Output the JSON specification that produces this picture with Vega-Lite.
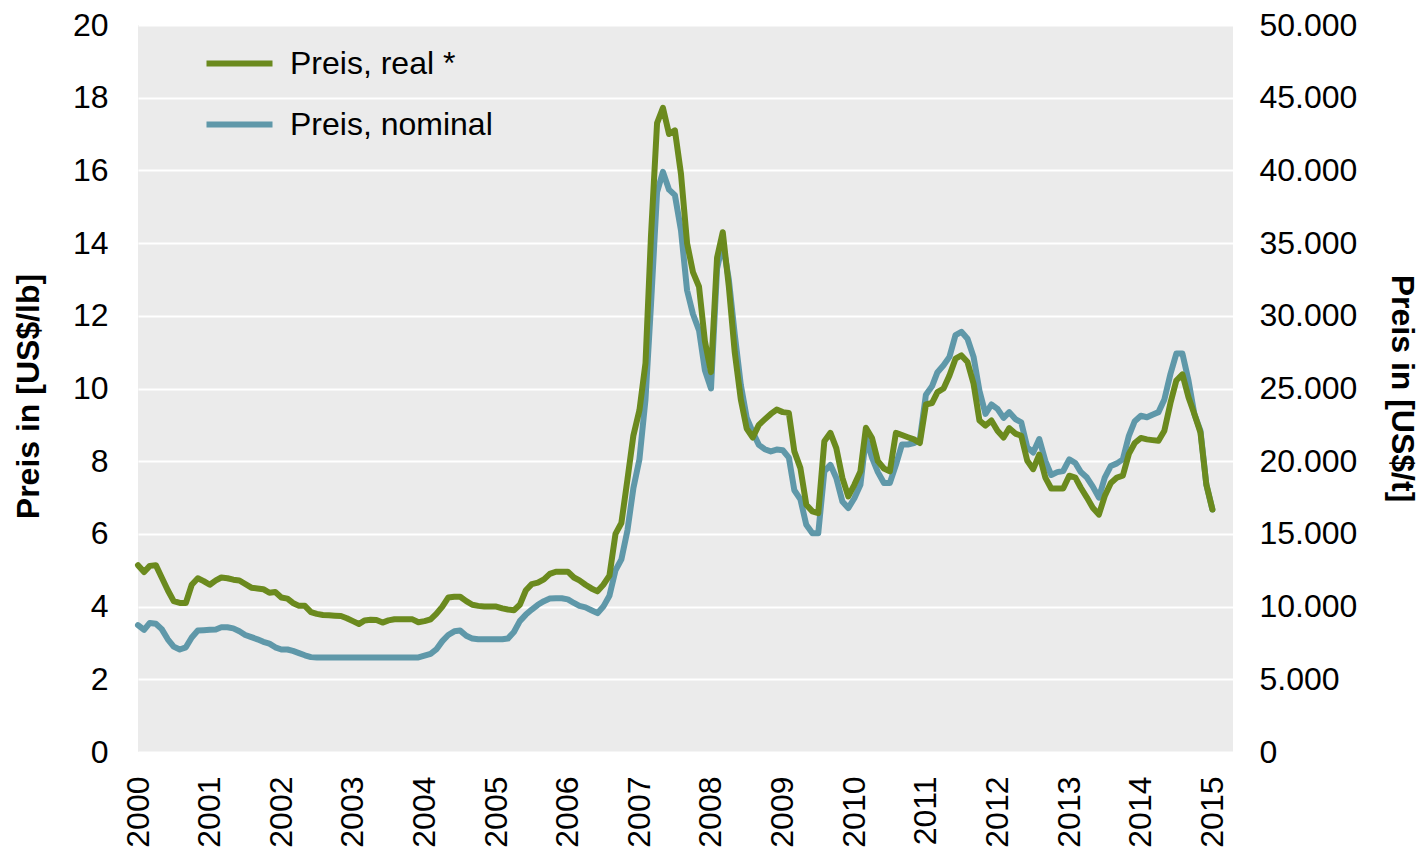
{
"$schema": "https://vega.github.io/schema/vega-lite/v6.json",
"width": 1095, "height": 727,
"autosize": {"type": "none"},
"padding": {"left": 138, "top": 25, "right": 187, "bottom": 101},
"background": "white",
"config": {"font": "Liberation Sans", "view": {"fill": "#EBEBEB", "stroke": null}, "axis": {"labelColor": "#000", "titleColor": "#000"}},
"datasets": {"prices": [
{"date":"2000-01-01","real":5.14,"nominal":3.49},{"date":"2000-02-01","real":4.95,"nominal":3.36},{"date":"2000-03-01","real":5.12,"nominal":3.55},{"date":"2000-04-01","real":5.14,"nominal":3.53},{"date":"2000-05-01","real":4.8,"nominal":3.38},{"date":"2000-06-01","real":4.45,"nominal":3.1},{"date":"2000-07-01","real":4.15,"nominal":2.9},{"date":"2000-08-01","real":4.1,"nominal":2.82},{"date":"2000-09-01","real":4.1,"nominal":2.88},{"date":"2000-10-01","real":4.6,"nominal":3.15},{"date":"2000-11-01","real":4.78,"nominal":3.34},{"date":"2000-12-01","real":4.7,"nominal":3.35},
{"date":"2001-01-01","real":4.6,"nominal":3.36},{"date":"2001-02-01","real":4.72,"nominal":3.37},{"date":"2001-03-01","real":4.8,"nominal":3.43},{"date":"2001-04-01","real":4.78,"nominal":3.43},{"date":"2001-05-01","real":4.74,"nominal":3.4},{"date":"2001-06-01","real":4.72,"nominal":3.32},{"date":"2001-07-01","real":4.62,"nominal":3.22},{"date":"2001-08-01","real":4.52,"nominal":3.16},{"date":"2001-09-01","real":4.5,"nominal":3.1},{"date":"2001-10-01","real":4.48,"nominal":3.03},{"date":"2001-11-01","real":4.38,"nominal":2.98},{"date":"2001-12-01","real":4.4,"nominal":2.88},
{"date":"2002-01-01","real":4.25,"nominal":2.82},{"date":"2002-02-01","real":4.22,"nominal":2.82},{"date":"2002-03-01","real":4.1,"nominal":2.78},{"date":"2002-04-01","real":4.02,"nominal":2.72},{"date":"2002-05-01","real":4.02,"nominal":2.66},{"date":"2002-06-01","real":3.85,"nominal":2.61},{"date":"2002-07-01","real":3.8,"nominal":2.6},{"date":"2002-08-01","real":3.77,"nominal":2.6},{"date":"2002-09-01","real":3.76,"nominal":2.6},{"date":"2002-10-01","real":3.75,"nominal":2.6},{"date":"2002-11-01","real":3.74,"nominal":2.6},{"date":"2002-12-01","real":3.68,"nominal":2.6},
{"date":"2003-01-01","real":3.6,"nominal":2.6},{"date":"2003-02-01","real":3.52,"nominal":2.6},{"date":"2003-03-01","real":3.62,"nominal":2.6},{"date":"2003-04-01","real":3.64,"nominal":2.6},{"date":"2003-05-01","real":3.63,"nominal":2.6},{"date":"2003-06-01","real":3.56,"nominal":2.6},{"date":"2003-07-01","real":3.62,"nominal":2.6},{"date":"2003-08-01","real":3.65,"nominal":2.6},{"date":"2003-09-01","real":3.65,"nominal":2.6},{"date":"2003-10-01","real":3.65,"nominal":2.6},{"date":"2003-11-01","real":3.65,"nominal":2.6},{"date":"2003-12-01","real":3.57,"nominal":2.6},
{"date":"2004-01-01","real":3.6,"nominal":2.65},{"date":"2004-02-01","real":3.65,"nominal":2.7},{"date":"2004-03-01","real":3.8,"nominal":2.82},{"date":"2004-04-01","real":4.0,"nominal":3.05},{"date":"2004-05-01","real":4.25,"nominal":3.22},{"date":"2004-06-01","real":4.27,"nominal":3.32},{"date":"2004-07-01","real":4.27,"nominal":3.34},{"date":"2004-08-01","real":4.15,"nominal":3.2},{"date":"2004-09-01","real":4.05,"nominal":3.12},{"date":"2004-10-01","real":4.02,"nominal":3.1},{"date":"2004-11-01","real":4.0,"nominal":3.1},{"date":"2004-12-01","real":4.0,"nominal":3.1},
{"date":"2005-01-01","real":4.0,"nominal":3.1},{"date":"2005-02-01","real":3.95,"nominal":3.1},{"date":"2005-03-01","real":3.92,"nominal":3.12},{"date":"2005-04-01","real":3.9,"nominal":3.3},{"date":"2005-05-01","real":4.05,"nominal":3.6},{"date":"2005-06-01","real":4.45,"nominal":3.78},{"date":"2005-07-01","real":4.62,"nominal":3.92},{"date":"2005-08-01","real":4.66,"nominal":4.05},{"date":"2005-09-01","real":4.75,"nominal":4.15},{"date":"2005-10-01","real":4.9,"nominal":4.22},{"date":"2005-11-01","real":4.96,"nominal":4.23},{"date":"2005-12-01","real":4.96,"nominal":4.23},
{"date":"2006-01-01","real":4.96,"nominal":4.2},{"date":"2006-02-01","real":4.8,"nominal":4.1},{"date":"2006-03-01","real":4.72,"nominal":4.02},{"date":"2006-04-01","real":4.6,"nominal":3.98},{"date":"2006-05-01","real":4.5,"nominal":3.9},{"date":"2006-06-01","real":4.42,"nominal":3.82},{"date":"2006-07-01","real":4.6,"nominal":4.0},{"date":"2006-08-01","real":4.85,"nominal":4.3},{"date":"2006-09-01","real":6.0,"nominal":5.0},{"date":"2006-10-01","real":6.3,"nominal":5.3},{"date":"2006-11-01","real":7.5,"nominal":6.1},{"date":"2006-12-01","real":8.7,"nominal":7.25},
{"date":"2007-01-01","real":9.4,"nominal":8.05},{"date":"2007-02-01","real":10.7,"nominal":9.7},{"date":"2007-03-01","real":14.2,"nominal":12.3},{"date":"2007-04-01","real":17.3,"nominal":15.4},{"date":"2007-05-01","real":17.72,"nominal":15.96},{"date":"2007-06-01","real":17.0,"nominal":15.47},{"date":"2007-07-01","real":17.1,"nominal":15.32},{"date":"2007-08-01","real":15.9,"nominal":14.35},{"date":"2007-09-01","real":14.0,"nominal":12.7},{"date":"2007-10-01","real":13.2,"nominal":12.05},{"date":"2007-11-01","real":12.8,"nominal":11.6},{"date":"2007-12-01","real":11.3,"nominal":10.5},
{"date":"2008-01-01","real":10.45,"nominal":10.0},{"date":"2008-02-01","real":13.6,"nominal":13.3},{"date":"2008-03-01","real":14.3,"nominal":14.0},{"date":"2008-04-01","real":12.8,"nominal":13.0},{"date":"2008-05-01","real":11.0,"nominal":11.5},{"date":"2008-06-01","real":9.7,"nominal":10.1},{"date":"2008-07-01","real":8.9,"nominal":9.2},{"date":"2008-08-01","real":8.65,"nominal":8.8},{"date":"2008-09-01","real":9.0,"nominal":8.45},{"date":"2008-10-01","real":9.15,"nominal":8.33},{"date":"2008-11-01","real":9.3,"nominal":8.27},{"date":"2008-12-01","real":9.42,"nominal":8.32},
{"date":"2009-01-01","real":9.35,"nominal":8.3},{"date":"2009-02-01","real":9.33,"nominal":8.1},{"date":"2009-03-01","real":8.27,"nominal":7.2},{"date":"2009-04-01","real":7.81,"nominal":6.95},{"date":"2009-05-01","real":6.8,"nominal":6.25},{"date":"2009-06-01","real":6.62,"nominal":6.02},{"date":"2009-07-01","real":6.57,"nominal":6.02},{"date":"2009-08-01","real":8.55,"nominal":7.72},{"date":"2009-09-01","real":8.78,"nominal":7.9},{"date":"2009-10-01","real":8.36,"nominal":7.54},{"date":"2009-11-01","real":7.54,"nominal":6.89},{"date":"2009-12-01","real":7.03,"nominal":6.71},
{"date":"2010-01-01","real":7.35,"nominal":6.98},{"date":"2010-02-01","real":7.72,"nominal":7.35},{"date":"2010-03-01","real":8.92,"nominal":8.64},{"date":"2010-04-01","real":8.64,"nominal":8.1},{"date":"2010-05-01","real":8.0,"nominal":7.7},{"date":"2010-06-01","real":7.8,"nominal":7.4},{"date":"2010-07-01","real":7.72,"nominal":7.4},{"date":"2010-08-01","real":8.78,"nominal":7.9},{"date":"2010-09-01","real":8.72,"nominal":8.46},{"date":"2010-10-01","real":8.66,"nominal":8.46},{"date":"2010-11-01","real":8.6,"nominal":8.5},{"date":"2010-12-01","real":8.5,"nominal":8.59},
{"date":"2011-01-01","real":9.56,"nominal":9.83},{"date":"2011-02-01","real":9.6,"nominal":10.06},{"date":"2011-03-01","real":9.9,"nominal":10.45},{"date":"2011-04-01","real":10.0,"nominal":10.64},{"date":"2011-05-01","real":10.36,"nominal":10.87},{"date":"2011-06-01","real":10.82,"nominal":11.47},{"date":"2011-07-01","real":10.91,"nominal":11.56},{"date":"2011-08-01","real":10.73,"nominal":11.37},{"date":"2011-09-01","real":10.13,"nominal":10.87},{"date":"2011-10-01","real":9.12,"nominal":9.94},{"date":"2011-11-01","real":8.98,"nominal":9.3},{"date":"2011-12-01","real":9.12,"nominal":9.56},
{"date":"2012-01-01","real":8.84,"nominal":9.44},{"date":"2012-02-01","real":8.65,"nominal":9.19},{"date":"2012-03-01","real":8.91,"nominal":9.35},{"date":"2012-04-01","real":8.76,"nominal":9.16},{"date":"2012-05-01","real":8.7,"nominal":9.07},{"date":"2012-06-01","real":8.01,"nominal":8.38},{"date":"2012-07-01","real":7.78,"nominal":8.24},{"date":"2012-08-01","real":8.18,"nominal":8.61},{"date":"2012-09-01","real":7.55,"nominal":8.01},{"date":"2012-10-01","real":7.25,"nominal":7.62},{"date":"2012-11-01","real":7.25,"nominal":7.7},{"date":"2012-12-01","real":7.25,"nominal":7.73},
{"date":"2013-01-01","real":7.6,"nominal":8.05},{"date":"2013-02-01","real":7.55,"nominal":7.95},{"date":"2013-03-01","real":7.27,"nominal":7.7},{"date":"2013-04-01","real":7.0,"nominal":7.55},{"date":"2013-05-01","real":6.72,"nominal":7.3},{"date":"2013-06-01","real":6.53,"nominal":7.0},{"date":"2013-07-01","real":7.04,"nominal":7.55},{"date":"2013-08-01","real":7.4,"nominal":7.87},{"date":"2013-09-01","real":7.55,"nominal":7.94},{"date":"2013-10-01","real":7.6,"nominal":8.05},{"date":"2013-11-01","real":8.2,"nominal":8.7},{"date":"2013-12-01","real":8.5,"nominal":9.1},
{"date":"2014-01-01","real":8.64,"nominal":9.25},{"date":"2014-02-01","real":8.6,"nominal":9.21},{"date":"2014-03-01","real":8.58,"nominal":9.28},{"date":"2014-04-01","real":8.56,"nominal":9.35},{"date":"2014-05-01","real":8.84,"nominal":9.7},{"date":"2014-06-01","real":9.6,"nominal":10.4},{"date":"2014-07-01","real":10.22,"nominal":10.96},{"date":"2014-08-01","real":10.39,"nominal":10.96},{"date":"2014-09-01","real":9.76,"nominal":10.22},{"date":"2014-10-01","real":9.3,"nominal":9.3},{"date":"2014-11-01","real":8.79,"nominal":8.84},{"date":"2014-12-01","real":7.36,"nominal":7.36},
{"date":"2015-01-01","real":6.67,"nominal":6.67}
],
"rightaxis": [{"t": 0}, {"t": 50000}]},
"resolve": {"scale": {"y": "independent"}, "axis": {"y": "independent"}},
"layer": [
{
"data": {"name": "prices"},
"mark": {"type": "line", "strokeWidth": 6, "strokeJoin": "round", "strokeCap": "round"},
"encoding": {
"x": {"field": "date", "type": "temporal",
"scale": {"type": "utc", "domain": [{"year": 2000, "month": 1, "date": 1, "utc": true}, {"year": 2015, "month": 4, "date": 16, "utc": true}]},
"axis": {"title": null, "format": "%Y", "tickCount": {"interval": "year", "step": 1}, "labelAngle": -90, "labelAlign": "right", "labelBaseline": "middle", "labelFontSize": 32, "labelPadding": 24, "grid": false, "ticks": false, "domain": false, "labelFlush": false, "labelOverlap": false}},
"y": {"field": "nominal", "type": "quantitative", "scale": {"domain": [0, 20]},
"axis": {"values": [0, 2, 4, 6, 8, 10, 12, 14, 16, 18, 20], "title": "Preis in [US$/lb]", "titleFontSize": 32, "titleFontWeight": "bold", "titleAngle": -90, "titleAlign": "center", "titleBaseline": "middle", "titleX": -110, "titleY": 371, "labelFontSize": 32, "labelPadding": 30, "ticks": false, "domain": false, "grid": true, "gridColor": "#FFFFFF", "gridWidth": 2, "labelFlush": false}},
"color": {"datum": "Preis, nominal", "type": "nominal",
"scale": {"domain": ["Preis, real *", "Preis, nominal"], "range": ["#6B8A1E", "#5F98A9"]},
"legend": {"title": null, "orient": "none", "legendX": 82, "legendY": 19, "padding": 0, "symbolType": "M-2,0H2", "symbolSize": 1089, "symbolStrokeWidth": 6, "labelFontSize": 32, "labelOffset": 31, "labelLimit": 0, "rowPadding": 25, "labelColor": "#000"}}
}
},
{
"data": {"name": "prices"},
"mark": {"type": "line", "strokeWidth": 6, "strokeJoin": "round", "strokeCap": "round"},
"encoding": {
"x": {"field": "date", "type": "temporal"},
"y": {"field": "real", "type": "quantitative", "scale": {"domain": [0, 20]}, "axis": null},
"color": {"datum": "Preis, real *", "type": "nominal"}
}
},
{
"data": {"name": "rightaxis"},
"mark": {"type": "point", "opacity": 0},
"encoding": {
"y": {"field": "t", "type": "quantitative", "scale": {"domain": [0, 50000]},
"axis": {"orient": "right", "values": [0, 5000, 10000, 15000, 20000, 25000, 30000, 35000, 40000, 45000, 50000], "labelExpr": "replace(format(datum.value, ','), ',', '.')", "title": "Preis in [US$/t]", "titleFontSize": 32, "titleFontWeight": "bold", "titleAngle": 90, "titleAlign": "center", "titleBaseline": "middle", "titleX": 168, "titleY": 363, "labelFontSize": 32, "labelPadding": 26, "ticks": false, "domain": false, "grid": false, "labelFlush": false}}
}
}
]
}
